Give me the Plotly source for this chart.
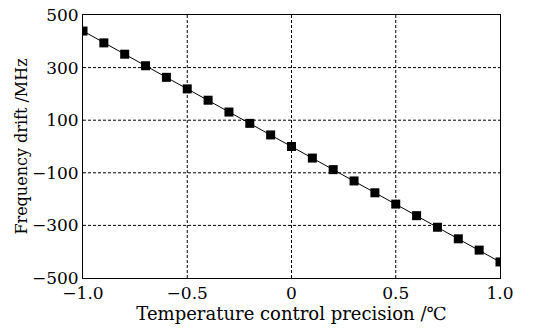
import plotly.graph_objects as go

precision = [-1.0, -0.9, -0.8, -0.7, -0.6, -0.5, -0.4, -0.3, -0.2, -0.1, 0.0,
             0.1, 0.2, 0.3, 0.4, 0.5, 0.6, 0.7, 0.8, 0.9, 1.0]
drift = [439, 394, 351, 307, 263, 219, 176, 131, 88, 44, 0,
         -44, -88, -131, -176, -219, -263, -307, -351, -394, -439]

x_ticks = [-1.0, -0.5, 0, 0.5, 1.0]
x_labels = ["\u22121.0", "\u22120.5", "0", "0.5", "1.0"]
y_ticks = [-500, -300, -100, 100, 300, 500]
y_labels = ["\u2212500", "\u2212300", "\u2212100", "100", "300", "500"]
grid_x = [-0.5, 0, 0.5]
grid_y = [-300, -100, 100, 300]

font = "DejaVu Serif, serif"

fig = go.Figure()
fig.add_trace(go.Scatter(
    x=precision, y=drift, mode="lines+markers",
    line=dict(color="black", width=1),
    marker=dict(symbol="square", size=9, color="black"),
    showlegend=False,
))

for gx in grid_x:
    fig.add_shape(type="line", xref="x", yref="paper", x0=gx, x1=gx, y0=0, y1=1,
                  line=dict(color="black", width=1, dash="3px,2px"), layer="below")
for gy in grid_y:
    fig.add_shape(type="line", xref="paper", yref="y", x0=0, x1=1, y0=gy, y1=gy,
                  line=dict(color="black", width=1, dash="3px,2px"), layer="below")

axis_common = dict(
    showline=True, linecolor="black", linewidth=1, mirror=True,
    showgrid=False, zeroline=False, ticks="", automargin=False,
    tickfont=dict(family=font, size=17, color="black"),
)

fig.update_xaxes(range=[-1, 1], tickvals=x_ticks, ticktext=x_labels,
                 title=dict(text="Temperature control precision /\u2103",
                            font=dict(family=font, size=18, color="black"), standoff=0),
                 **axis_common)
fig.update_yaxes(range=[-500, 500], tickvals=y_ticks, ticktext=y_labels,
                 title=dict(text="Frequency drift /MHz",
                            font=dict(family=font, size=16, color="black"), standoff=0),
                 **axis_common)

fig.update_layout(
    width=534, height=328,
    margin=dict(l=83, r=34, t=15, b=50),
    plot_bgcolor="white", paper_bgcolor="white",
)

fig.write_html("out.html", config={"displayModeBar": False},
               post_script="document.body.style.margin='0';document.body.style.overflow='hidden';")
